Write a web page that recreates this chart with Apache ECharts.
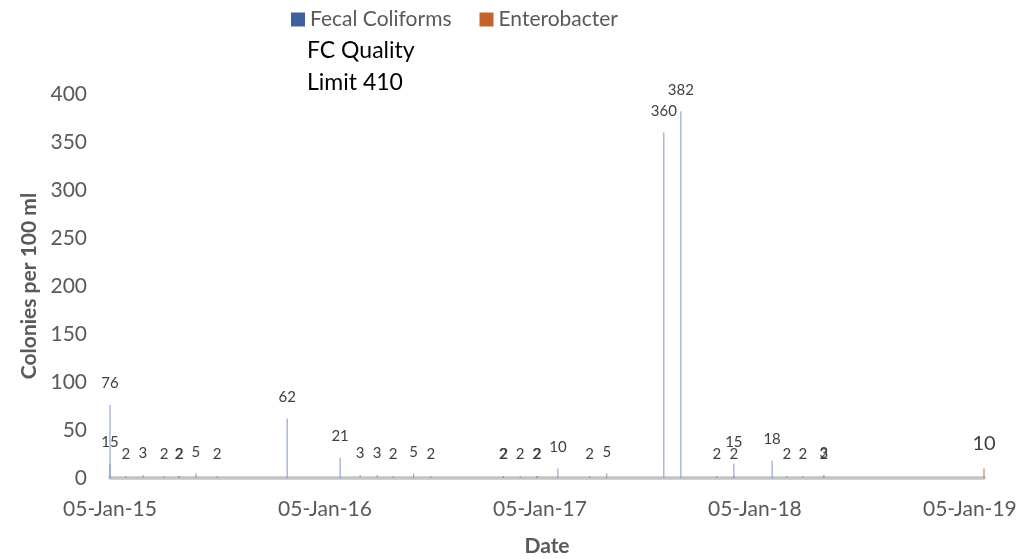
<!DOCTYPE html>
<html>
<head>
<meta charset="utf-8">
<script src="https://cdn.jsdelivr.net/npm/echarts@6/dist/echarts.min.js"></script>
<style>
  html, body { margin: 0; padding: 0; background: #ffffff; }
  #chart { width: 1020px; height: 559px; }
</style>
</head>
<body>
<div id="chart"></div>
<script>
// ---- data ----
const axisStartDate = '2015-01-05';
const tickLabels = ['05-Jan-15', '05-Jan-16', '05-Jan-17', '05-Jan-18', '05-Jan-19'];
const yTicks = [0, 50, 100, 150, 200, 250, 300, 350, 400];

const fcDates = [
  '2015-01-05', '2015-01-05', '2015-02-01', '2015-03-02', '2015-04-07', '2015-05-02', '2015-05-03',
  '2015-05-31', '2015-07-06', '2015-11-02', '2016-01-31', '2016-03-05', '2016-04-03', '2016-04-30',
  '2016-06-04', '2016-07-03', '2016-11-03', '2016-11-04', '2016-12-02', '2016-12-30', '2016-12-31',
  '2017-02-04', '2017-03-30', '2017-04-28', '2017-08-03', '2017-09-01', '2017-11-01', '2017-11-30',
  '2017-11-30', '2018-02-03', '2018-02-28', '2018-03-27', '2018-05-02', '2018-05-02'
];
const fcValues = [
  76, 15, 2, 3, 2, 2, 2,
  5, 2, 62, 21, 3, 3, 2,
  5, 2, 2, 2, 2, 2, 2,
  10, 2, 5, 360, 382, 2, 2,
  15, 18, 2, 2, 3, 2
];
const entDates = ['2019-01-29'];
const entValues = [10];

// ---- helpers ----
const DAY = 86400000;
function dayOffset(s) {
  return Math.round((Date.parse(s + 'T00:00:00Z') - Date.parse(axisStartDate + 'T00:00:00Z')) / DAY);
}
const YEAR = 365.25;
const fcData = fcDates.map((d, i) => [dayOffset(d), fcValues[i]]);
const entData = entDates.map((d, i) => [dayOffset(d), entValues[i]]);
const xMax = Math.max(...fcData.map(p => p[0]), ...entData.map(p => p[0]));

const FONT = 'Lato';
const chart = echarts.init(document.getElementById('chart'), null, { renderer: 'canvas' });

chart.setOption({
  animation: false,
  backgroundColor: '#ffffff',
  textStyle: { fontFamily: FONT },
  legend: {
    left: 286,
    top: 4,
    icon: 'rect',
    itemWidth: 14,
    itemHeight: 14,
    itemGap: 28,
    textStyle: { fontFamily: FONT, fontSize: 21, color: '#595959' },
    data: [
      { name: 'Fecal Coliforms', itemStyle: { color: '#3f5f9f' } },
      { name: 'Enterobacter', itemStyle: { color: '#c3622a' } }
    ]
  },
  graphic: [
    { type: 'text', left: 307, top: 39, style: { text: 'FC Quality', font: '23px Lato', fill: '#000000' } },
    { type: 'text', left: 307, top: 71, style: { text: 'Limit 410', font: '23px Lato', fill: '#000000' } }
  ],
  grid: { left: 110, right: 36, top: 94, bottom: 81, containLabel: false, outerBoundsMode: 'none' },
  xAxis: {
    type: 'value',
    min: 0,
    max: xMax,
    interval: YEAR,
    name: 'Date',
    nameLocation: 'middle',
    nameGap: 58,
    nameTextStyle: { fontFamily: FONT, fontSize: 21, fontWeight: 'bold', color: '#595959' },
    axisLine: { show: true, lineStyle: { color: '#c4c4c4', width: 3.5 } },
    axisTick: { show: false },
    splitLine: { show: false },
    axisLabel: {
      showMaxLabel: false,
      margin: 21,
      fontFamily: FONT, fontSize: 21, color: '#595959',
      formatter: function (v) {
        const k = Math.round(v / YEAR);
        if (Math.abs(v - k * YEAR) > 1) return '';
        return tickLabels[k] || '';
      }
    }
  },
  yAxis: {
    type: 'value',
    min: yTicks[0],
    max: yTicks[yTicks.length - 1],
    interval: yTicks[1] - yTicks[0],
    name: 'Colonies per 100 ml',
    nameLocation: 'middle',
    nameGap: 66,
    nameRotate: 90,
    nameTextStyle: { fontFamily: FONT, fontSize: 21, fontWeight: 'bold', color: '#595959' },
    axisLine: { show: false },
    axisTick: { show: false },
    splitLine: { show: false },
    axisLabel: { margin: 23, fontFamily: FONT, fontSize: 21, color: '#595959' }
  },
  series: [
    {
      name: 'Fecal Coliforms',
      type: 'bar',
      barWidth: 1,
      barGap: '-100%',
      data: fcData,
      itemStyle: { color: '#7f97c8' },
      label: {
        show: true, position: 'top', distance: 14,
        fontFamily: FONT, fontSize: 15, color: '#404040'
      },
      z: 3
    },
    {
      name: 'Enterobacter',
      type: 'bar',
      barWidth: 1,
      barGap: '-100%',
      data: entData,
      itemStyle: { color: '#c8682e' },
      label: {
        show: true, position: 'top', distance: 15,
        fontFamily: FONT, fontSize: 20, color: '#404040'
      },
      z: 3
    }
  ]
});
</script>
</body>
</html>
